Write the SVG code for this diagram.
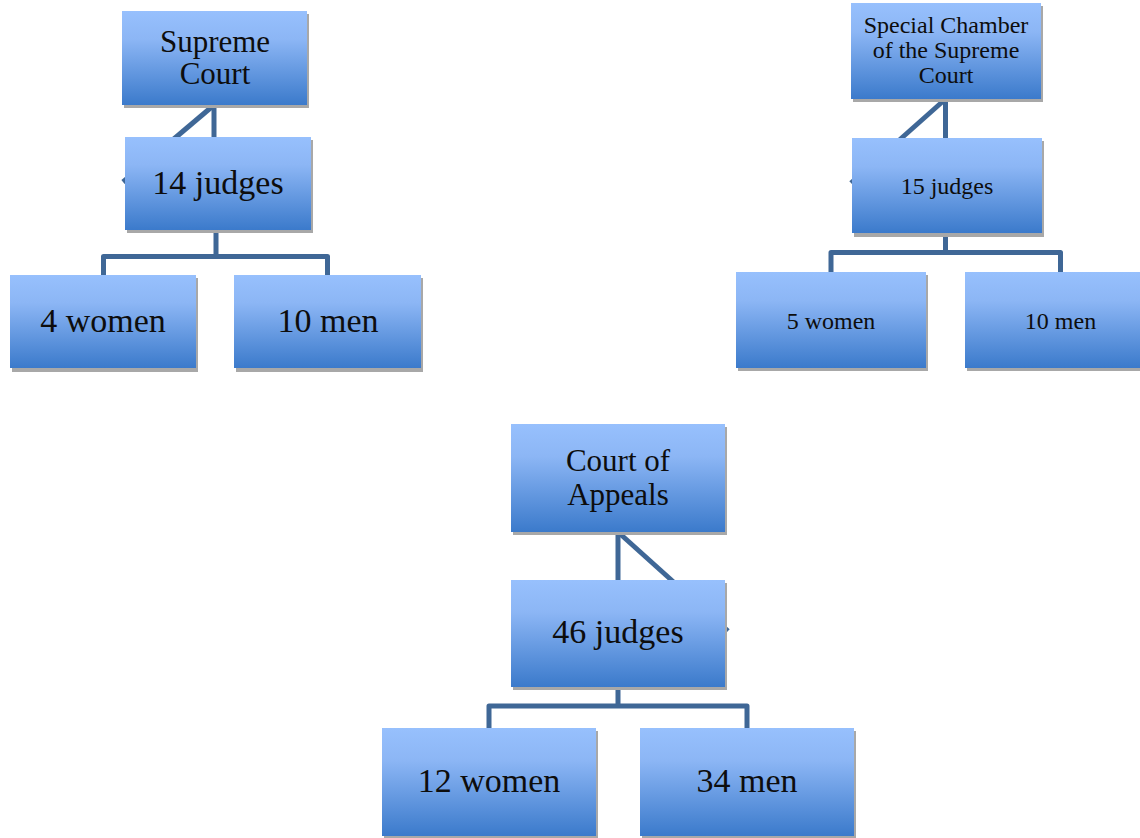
<svg xmlns="http://www.w3.org/2000/svg" width="1140" height="838" viewBox="0 0 1140 838">
  <defs>
    <linearGradient id="boxFill" x1="0" y1="0" x2="0" y2="1">
      <stop offset="0" stop-color="#97c0fd"/>
      <stop offset="0.3" stop-color="#8cb6f5"/>
      <stop offset="1" stop-color="#3b7acb"/>
    </linearGradient>
  </defs>
  <style>
    .box { fill: url(#boxFill); }
    .shadow { fill: #a8a8a8; }
    .link { fill: none; stroke: #3f6796; stroke-width: 5; stroke-linejoin: round; }
    .big { font-family: "Liberation Serif", "Times New Roman", serif; font-size: 34px; fill: #0d0d0d; text-anchor: middle; }
    .title { font-family: "Liberation Serif", "Times New Roman", serif; font-size: 31px; fill: #0d0d0d; text-anchor: middle; }
    .small { font-family: "Liberation Serif", "Times New Roman", serif; font-size: 24px; fill: #0d0d0d; text-anchor: middle; }
  </style>
  <rect width="1140" height="838" fill="#ffffff"/>

  <!-- connectors, drawn beneath the boxes -->
  <g id="connectors">
    <!-- Supreme Court tree -->
    <path class="link" d="M214,105 L214,138"/>
    <path class="link" d="M214,105 L123,182"/>
    <path class="link" d="M216,230 L216,256.5 M103.5,275 L103.5,256.5 L327.5,256.5 L327.5,275"/>
    <!-- Special Chamber tree -->
    <path class="link" d="M945.5,99 L945.5,138"/>
    <path class="link" d="M945.5,99 L851,183"/>
    <path class="link" d="M945.5,233 L945.5,252.5 M831,272 L831,252.5 L1060.5,252.5 L1060.5,272"/>
    <!-- Court of Appeals tree -->
    <path class="link" d="M618,532 L618,580"/>
    <path class="link" d="M618,532 L728,631"/>
    <path class="link" d="M618,687 L618,706 M489,728 L489,706 L747,706 L747,728"/>
  </g>

  <g id="supreme-court">
    <rect class="shadow" x="124" y="14" width="185" height="94"/>
    <rect class="box" x="122" y="11" width="185" height="94"/>
    <text class="title" x="215" y="52">Supreme</text>
    <text class="title" x="215" y="84">Court</text>
  </g>
  <g id="supreme-court-judges">
    <rect class="shadow" x="127" y="140" width="186" height="93"/>
    <rect class="box" x="125" y="137" width="186" height="93"/>
    <text class="big" x="218" y="194">14 judges</text>
  </g>
  <g id="supreme-court-women">
    <rect class="shadow" x="12" y="278" width="186" height="94"/>
    <rect class="box" x="10" y="275" width="186" height="93"/>
    <text class="big" x="103" y="332">4 women</text>
  </g>
  <g id="supreme-court-men">
    <rect class="shadow" x="236" y="278" width="187" height="94"/>
    <rect class="box" x="234" y="275" width="187" height="93"/>
    <text class="big" x="328" y="332">10 men</text>
  </g>

  <g id="special-chamber">
    <rect class="shadow" x="853" y="6" width="190" height="96"/>
    <rect class="box" x="851" y="3" width="190" height="96"/>
    <text class="small" x="946" y="33">Special Chamber</text>
    <text class="small" x="946" y="58">of the Supreme</text>
    <text class="small" x="946" y="83">Court</text>
  </g>
  <g id="special-chamber-judges">
    <rect class="shadow" x="854" y="141" width="190" height="96"/>
    <rect class="box" x="852" y="138" width="190" height="95"/>
    <text class="small" x="947" y="194">15 judges</text>
  </g>
  <g id="special-chamber-women">
    <rect class="shadow" x="738" y="275" width="190" height="96"/>
    <rect class="box" x="736" y="272" width="190" height="96"/>
    <text class="small" x="831" y="329">5 women</text>
  </g>
  <g id="special-chamber-men">
    <rect class="shadow" x="967" y="275" width="175" height="96"/>
    <rect class="box" x="965" y="272" width="175" height="96"/>
    <text class="small" x="1060.5" y="329">10 men</text>
  </g>

  <g id="court-of-appeals">
    <rect class="shadow" x="513" y="427" width="214" height="108"/>
    <rect class="box" x="511" y="424" width="214" height="108"/>
    <text class="title" x="618" y="471">Court of</text>
    <text class="title" x="618" y="505">Appeals</text>
  </g>
  <g id="court-of-appeals-judges">
    <rect class="shadow" x="513" y="583" width="214" height="107"/>
    <rect class="box" x="511" y="580" width="214" height="107"/>
    <text class="big" x="618" y="643">46 judges</text>
  </g>
  <g id="court-of-appeals-women">
    <rect class="shadow" x="384" y="731" width="214" height="108"/>
    <rect class="box" x="382" y="728" width="214" height="108"/>
    <text class="big" x="489" y="792">12 women</text>
  </g>
  <g id="court-of-appeals-men">
    <rect class="shadow" x="642" y="731" width="214" height="108"/>
    <rect class="box" x="640" y="728" width="214" height="108"/>
    <text class="big" x="747" y="792">34 men</text>
  </g>
</svg>
